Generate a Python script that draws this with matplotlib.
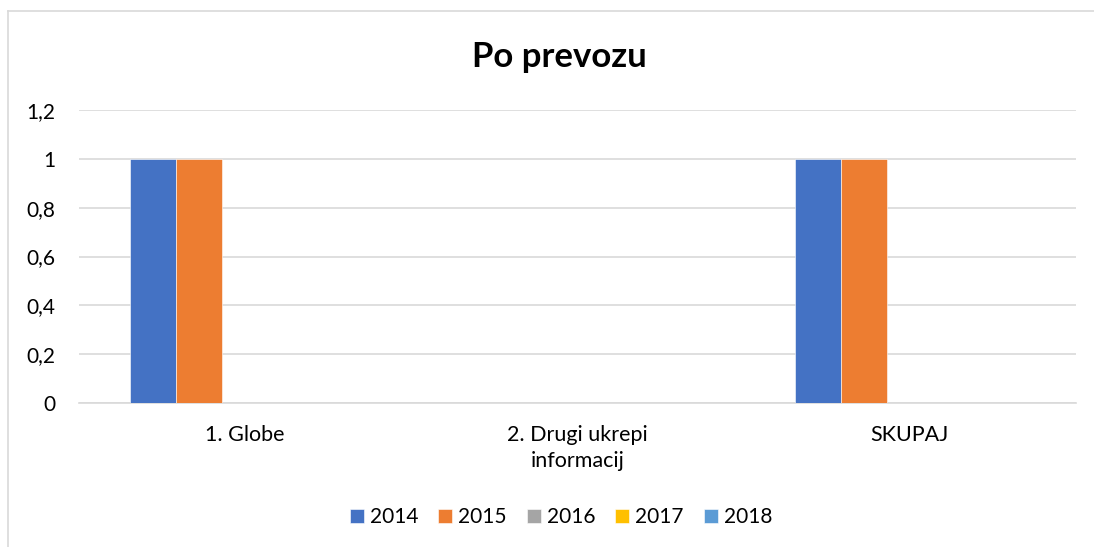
import numpy as np
import matplotlib
matplotlib.use("Agg")
import matplotlib.pyplot as plt
from matplotlib.lines import Line2D
from matplotlib.ticker import FuncFormatter

plt.rcParams["font.family"] = ["Lato", "DejaVu Sans"]

# data
categories = ["1. Globe", "2. Drugi ukrepi\ninformacij", "SKUPAJ"]
years = ["2014", "2015", "2016", "2017", "2018"]
v2014 = [1, 0, 1]
v2015 = [1, 0, 1]
v2016 = [0, 0, 0]
v2017 = [0, 0, 0]
v2018 = [0, 0, 0]
series = [v2014, v2015, v2016, v2017, v2018]
colors = ["#4472C4", "#ED7D31", "#A5A5A5", "#FFC000", "#5B9BD5"]

W, H = 1094, 547
fig = plt.figure(figsize=(W / 100, H / 100), dpi=100)
fig.patch.set_facecolor("white")

ax = fig.add_axes([79 / W, 1 - 403 / H, (1076 - 79) / W, (403 - 110) / H])

x = np.arange(len(categories))
bw = 0.1386
for i, (vals, c, lab) in enumerate(zip(series, colors, years)):
    ax.bar(x + (i - 2) * bw, vals, width=bw, color=c, label=lab,
           edgecolor="white", linewidth=0.4, zorder=3)

ax.set_xlim(-0.5, 2.5)
ax.set_ylim(0, 1.2)
ax.set_yticks(np.arange(0, 1.21, 0.2))
ax.yaxis.set_major_formatter(FuncFormatter(
    lambda v, p: ("%g" % round(v, 1)).replace(".", ",")))
ax.set_xticks(x)
ax.set_xticklabels(categories, multialignment="center", linespacing=1.35)
ax.grid(axis="y", color="#D9D9D9", linewidth=1.2, zorder=0)
for s in ["top", "right", "left"]:
    ax.spines[s].set_visible(False)
ax.spines["bottom"].set_color("#D9D9D9")
ax.spines["bottom"].set_linewidth(1.2)
ax.tick_params(axis="y", length=0, pad=17, labelsize=15, colors="#000000")
ax.tick_params(axis="x", length=0, pad=16, labelsize=15.5, colors="#000000")

fig.text(559 / W, 1 - 57 / H, "Po prevozu", ha="center", va="center",
         fontsize=25, fontweight="bold")

leg = fig.legend(loc="center", bbox_to_anchor=(561 / W, 1 - 517 / H),
                 ncol=5, frameon=False, fontsize=15, handlelength=0.67,
                 handleheight=0.67, handletextpad=0.3, columnspacing=0.95,
                 borderaxespad=0)

# chart area border (cut by the image edge on right and bottom)
fig.add_artist(Line2D([8 / W, 1], [1 - 11 / H, 1 - 11 / H],
                      transform=fig.transFigure, color="#D9D9D9", lw=1.2))
fig.add_artist(Line2D([8 / W, 8 / W], [0, 1 - 11 / H],
                      transform=fig.transFigure, color="#D9D9D9", lw=1.2))

fig.savefig("out.png", dpi=100)
